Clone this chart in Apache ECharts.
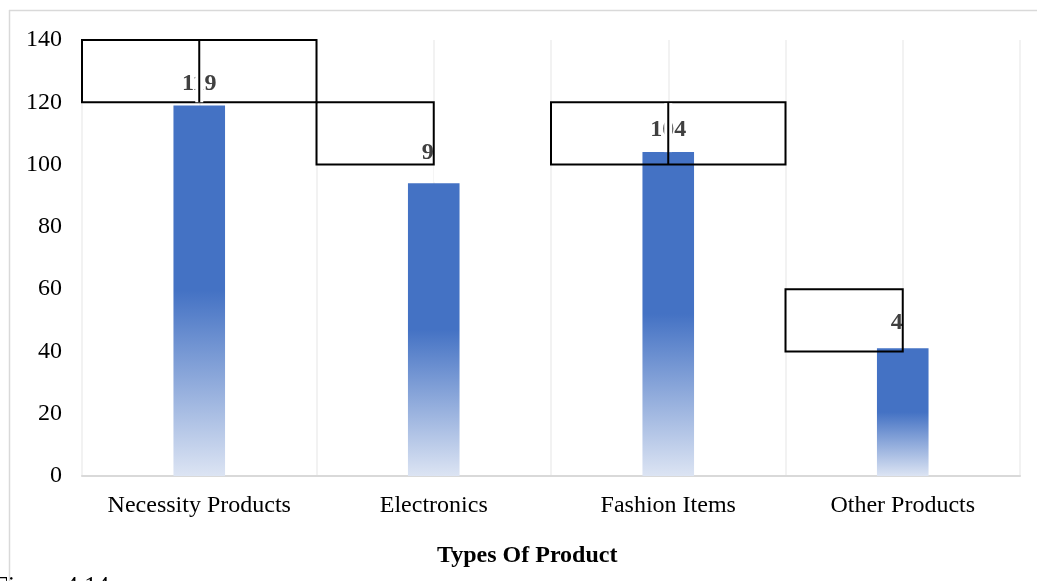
<!DOCTYPE html>
<html>
<head>
<meta charset="utf-8">
<script src="https://cdn.jsdelivr.net/npm/echarts@6/dist/echarts.min.js"></script>
<style>
  html, body { margin: 0; padding: 0; background: #fff; }
  #chart { width: 1037px; height: 581px; }
</style>
</head>
<body>
<div id="chart"></div>
<script>
// Survey counts by product type
const categories = ['Necessity Products', 'Electronics', 'Fashion Items', 'Other Products'];
const values = [119, 94, 104, 41];

// Value axis range
const yMin = 0;
const yMax = 140;
const yStep = 20;

// Outlined label boxes: [x from, x to, y from, y to] in category / value units
const boxes = [
  [-0.5, 0.5, 120, 140],
  [0.5, 1.0, 100, 120],
  [1.5, 2.5, 100, 120],
  [2.5, 3.0, 40, 60]
];
// Vertical dividers inside boxes: [x, y from, y to]
const dividers = [
  [0, 120, 140],
  [2, 100, 120]
];

const SERIF = "'Liberation Serif', 'Times New Roman', serif";
const chart = echarts.init(document.getElementById('chart'), null, { renderer: 'canvas' });

// label gap above the bar, a little larger for the shorter bars
function labelGap(i) {
  if (i === 1) return 18;
  if (i === 3) return 14;
  return 10;
}

function renderBox(params, api) {
  const x0 = api.value(0), x1 = api.value(1), y0 = api.value(2), y1 = api.value(3);
  const p0 = api.coord([x0, y1]);
  const p1 = api.coord([x1, y0]);
  const children = [];
  // where a box ends at a category centre, the label text stops at its edge
  if (Number.isInteger(x1) && x1 >= 0 && x1 < values.length) {
    const a = api.coord([x1, y1]);
    const b = api.coord([x1 + 0.25, values[x1]]);
    children.push({
      type: 'rect',
      shape: { x: a[0], y: a[1], width: b[0] - a[0], height: b[1] - a[1] - 1 },
      style: { fill: '#ffffff' }
    });
  }
  children.push({
    type: 'rect',
    shape: { x: p0[0], y: p0[1], width: p1[0] - p0[0], height: p1[1] - p0[1] },
    style: { fill: null, stroke: '#000000', lineWidth: 2 }
  });
  return { type: 'group', children: children };
}

function renderDivider(params, api) {
  const x = api.value(0), y0 = api.value(1), y1 = api.value(2);
  const top = api.coord([x, y1]);
  const bottom = api.coord([x, y0]);
  const low = api.coord([x, Math.max(y0, values[Math.round(x)])]);
  return {
    type: 'group',
    children: [
      {
        type: 'rect',
        shape: { x: top[0] - 4, y: top[1] + 1, width: 8, height: low[1] - top[1] - 1 },
        style: { fill: '#ffffff' }
      },
      {
        type: 'line',
        shape: { x1: top[0], y1: top[1], x2: bottom[0], y2: bottom[1] },
        style: { stroke: '#000000', lineWidth: 2 }
      }
    ]
  };
}

const option = {
  backgroundColor: '#ffffff',
  animation: false,
  grid: { left: 82, right: 17, top: 40, bottom: 105, containLabel: false },
  xAxis: [
    {
      type: 'category',
      data: categories,
      boundaryGap: true,
      axisLine: { show: true, lineStyle: { color: '#d9d9d9', width: 2 } },
      axisTick: { show: false },
      axisLabel: { interval: 0, fontFamily: SERIF, fontSize: 24, color: '#000000', margin: 18 },
      splitLine: { show: false }
    },
    {
      type: 'value',
      min: -0.5,
      max: 3.5,
      interval: 0.5,
      position: 'top',
      axisLine: { show: false },
      axisTick: { show: false },
      axisLabel: { show: false },
      splitLine: { show: true, lineStyle: { color: '#eeeeee', width: 1.5 } }
    }
  ],
  yAxis: {
    type: 'value',
    min: yMin,
    max: yMax,
    interval: yStep,
    axisLine: { show: false },
    axisTick: { show: false },
    splitLine: { show: false },
    axisLabel: { fontFamily: SERIF, fontSize: 24, color: '#000000', margin: 20 }
  },
  series: [
    {
      type: 'bar',
      data: values.map((v, i) => ({ value: v, label: { distance: labelGap(i) } })),
      barWidth: '22%',
      z: 2,
      itemStyle: {
        color: new echarts.graphic.LinearGradient(0, 0, 0, 1, [
          { offset: 0, color: '#4472c4' },
          { offset: 0.5, color: '#4472c4' },
          { offset: 1, color: '#dce4f3' }
        ])
      },
      label: {
        show: true,
        position: 'top',
        fontFamily: SERIF,
        fontSize: 24,
        fontWeight: 'bold',
        color: '#404040'
      }
    },
    {
      type: 'custom',
      xAxisIndex: 1,
      yAxisIndex: 0,
      z: 10,
      silent: true,
      renderItem: renderBox,
      data: boxes
    },
    {
      type: 'custom',
      xAxisIndex: 1,
      yAxisIndex: 0,
      z: 11,
      silent: true,
      renderItem: renderDivider,
      data: dividers
    }
  ],
  graphic: [
    {
      type: 'line',
      z: 0,
      shape: { x1: 9, y1: 10.5, x2: 1037, y2: 10.5 },
      style: { stroke: '#d9d9d9', lineWidth: 1.5 }
    },
    {
      type: 'line',
      z: 0,
      shape: { x1: 9.5, y1: 10, x2: 9.5, y2: 581 },
      style: { stroke: '#d9d9d9', lineWidth: 1.5 }
    },
    {
      type: 'text',
      left: 437,
      top: 544,
      style: {
        text: 'Types Of Product',
        font: "bold 24px 'Liberation Serif', serif",
        fill: '#000000'
      }
    },
    {
      type: 'text',
      x: -6,
      y: 587.5,
      style: {
        text: 'Figure 4.14:',
        font: "25px 'Liberation Serif', serif",
        fill: '#000000',
        verticalAlign: 'middle'
      }
    }
  ]
};

chart.setOption(option);
</script>
</body>
</html>
